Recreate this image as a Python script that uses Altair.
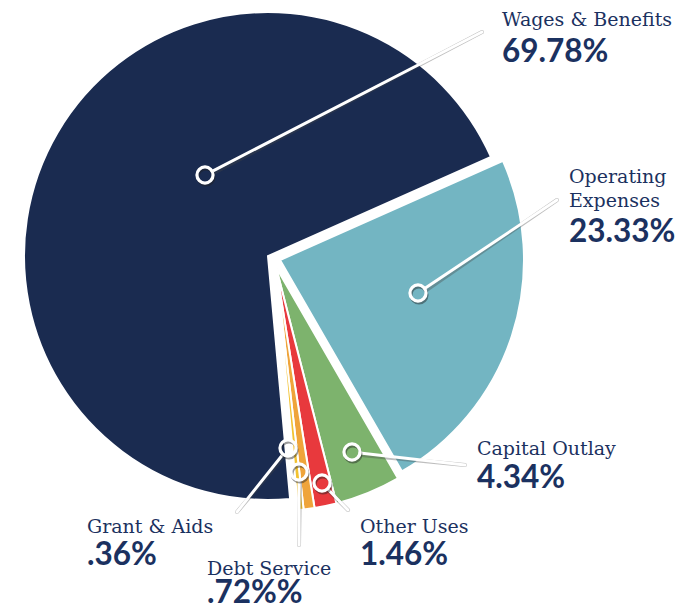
import math
import altair as alt
import pandas as pd

# ---------------- data ----------------
categories = ["Wages & Benefits", "Operating Expenses", "Capital Outlay",
              "Other Uses", "Debt Service", "Grant & Aids"]
values = [69.78, 23.33, 4.34, 1.46, 0.72, 0.36]
name_labels = ["Wages & Benefits", "Operating\nExpenses", "Capital Outlay",
               "Other Uses", "Debt Service", "Grant & Aids"]
pct_labels = ["69.78%", "23.33%", "4.34%", "1.46%", ".72%%", ".36%"]

# ---------------- styles / layout ----------------
colors = ["#1a2b50", "#73b5c2", "#7db36d", "#e8393d", "#efa43a", "#f2c230"]
TEXT = "#1b3160"
W, H = 670, 602
CX, CY, R = 260, 248, 244
START = math.radians(174.8)
TOTAL = sum(values)

# slice groups (pixel offset of exploded slices)
group_of = {"Wages & Benefits": "base", "Operating Expenses": "blue"}
offsets = {"base": (0, 0), "blue": (12, 4), "small": (8, 11)}

# callout layout: circle centre, leader end, name position, percent position
callout = {
    "Wages & Benefits":   dict(cx=197, cy=167, ex=474, ey=24,  nx=494, ny=18,  px=494, py=54),
    "Operating Expenses": dict(cx=410, cy=285, ex=549, ey=192, nx=561, ny=175, px=561, py=234),
    "Capital Outlay":     dict(cx=344, cy=444, ex=457, ey=457, nx=469, ny=447, px=469, py=480),
    "Other Uses":         dict(cx=314, cy=475, ex=340, ey=502, nx=352, ny=525, px=352, py=557),
    "Debt Service":       dict(cx=291, cy=464, ex=291, ey=537, nx=199, ny=567, px=199, py=595),
    "Grant & Aids":       dict(cx=280, cy=440, ex=229, ey=504, nx=79,  ny=525, px=79,  py=557),
}

df = pd.DataFrame({
    "cat": categories,
    "value": values,
    "order": list(range(len(categories))),
    "group": [group_of.get(c, "small") for c in categories],
    "name": name_labels,
    "pct": pct_labels,
})
lay = pd.DataFrame([dict(cat=c, **callout[c]) for c in categories])
df = df.merge(lay, on="cat")

base = alt.Chart(df)

theta_scale = alt.Scale(domain=[0, TOTAL], range=[START, START + 2 * math.pi])
color_enc = alt.Color("cat:N", scale=alt.Scale(domain=categories, range=colors), legend=None)


def arc_layer(group):
    dx, dy = offsets[group]
    return (
        base.transform_window(cum="sum(value)", sort=[alt.SortField("order")])
        .transform_calculate(start="datum.cum - datum.value")
        .transform_filter(alt.datum.group == group)
        .mark_arc(radius=R, stroke="white", strokeWidth=2, xOffset=dx, yOffset=dy)
        .encode(
            theta=alt.Theta("start:Q", scale=theta_scale),
            theta2="cum:Q",
            color=color_enc,
            x=alt.value(CX),
            y=alt.value(CY),
        )
    )


xs = alt.Scale(domain=[0, W])
ys = alt.Scale(domain=[H, 0])
RING = 8

lines = base.transform_calculate(
    L="sqrt((datum.ex-datum.cx)*(datum.ex-datum.cx)+(datum.ey-datum.cy)*(datum.ey-datum.cy))",
).transform_calculate(
    sx=f"datum.cx + (datum.ex-datum.cx)/datum.L*{RING}",
    sy=f"datum.cy + (datum.ey-datum.cy)/datum.L*{RING}",
)

line_enc = dict(
    x=alt.X("sx:Q", scale=xs, axis=None),
    y=alt.Y("sy:Q", scale=ys, axis=None),
    x2="ex:Q",
    y2="ey:Q",
)
line_shadow = lines.mark_rule(stroke="#444444", strokeWidth=4, opacity=0.35,
                              xOffset=1, yOffset=2, strokeCap="round").encode(**line_enc)
line_white = lines.mark_rule(stroke="white", strokeWidth=3, strokeCap="round").encode(**line_enc)

pt_enc = dict(x=alt.X("cx:Q", scale=xs, axis=None), y=alt.Y("cy:Q", scale=ys, axis=None))
ring_shadow = base.mark_point(shape="circle", filled=False, size=260, stroke="#222222",
                              strokeWidth=3, opacity=0.45, xOffset=1, yOffset=2).encode(**pt_enc)
ring = base.mark_point(shape="circle", filled=False, size=260, stroke="white",
                       strokeWidth=3.2, opacity=1).encode(**pt_enc)

names = base.mark_text(align="left", baseline="alphabetic", font="DejaVu Serif",
                       fontSize=19, color=TEXT, lineBreak="\n", lineHeight=24).encode(
    x=alt.X("nx:Q", scale=xs, axis=None),
    y=alt.Y("ny:Q", scale=ys, axis=None),
    text="name:N",
)
pcts = base.mark_text(align="left", baseline="alphabetic", font="Lato",
                      fontWeight="bold", fontSize=31.5, color=TEXT).encode(
    x=alt.X("px:Q", scale=xs, axis=None),
    y=alt.Y("py:Q", scale=ys, axis=None),
    text="pct:N",
)

chart = alt.layer(
    arc_layer("base"), arc_layer("blue"), arc_layer("small"),
    line_shadow, line_white, ring_shadow, ring, names, pcts,
).properties(
    width=W, height=H, padding=0, autosize=alt.AutoSizeParams(type="none"),
).configure_view(strokeWidth=0)

chart.save("out.html", embed_options={"renderer": "svg", "actions": False})
